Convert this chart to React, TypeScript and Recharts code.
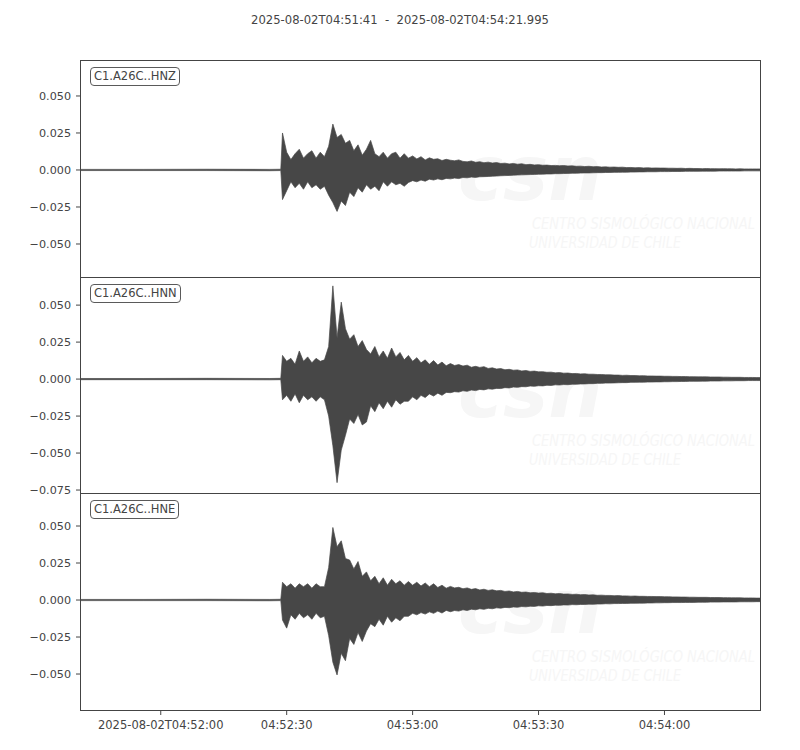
import React from "react";
import { ComposedChart, Area, XAxis, YAxis } from "recharts";

const TITLE = "2025-08-02T04:51:41  -  2025-08-02T04:54:21.995";
const TIME_DOMAIN: [number, number] = [0, 161.995];
const X_TICKS = [19, 49, 79, 109, 139];
const X_TICK_LABELS = ["2025-08-02T04:52:00", "04:52:30", "04:53:00", "04:53:30", "04:54:00"];

const CHANNELS = ["C1.A26C..HNZ", "C1.A26C..HNN", "C1.A26C..HNE"];
const Y_TICKS_Z = [-0.05, -0.025, 0, 0.025, 0.05];
const Y_TICKS_N = [-0.075, -0.05, -0.025, 0, 0.025, 0.05];
const Y_TICKS_E = [-0.05, -0.025, 0, 0.025, 0.05];
const Y_DOMAIN_Z: [number, number] = [-0.0723, 0.0743];
const Y_DOMAIN_N: [number, number] = [-0.077, 0.069];
const Y_DOMAIN_E: [number, number] = [-0.0743, 0.0723];

// seconds after 04:51:41 (quiet part before the onset)
const preTimes = [0, 15, 30, 45, 47.6];
const preUpper = [0.0004, 0.0004, 0.0005, 0.0004, 0.0005];
const preLower = [-0.0004, -0.0004, -0.0004, -0.0005, -0.0004];
// envelope sampled every second from t = 48 s to t = 162 s
const envStart = 48;
const envCount = 115;

const hnzUpper = [
  0.025, 0.012, 0.007, 0.011, 0.014, 0.008, 0.011, 0.013, 0.008, 0.012,
  0.009, 0.016, 0.031, 0.022, 0.024, 0.018, 0.020, 0.013, 0.017, 0.010,
  0.014, 0.020, 0.011, 0.009, 0.012, 0.008, 0.011, 0.012, 0.008, 0.011,
  0.008, 0.0095, 0.0075, 0.009, 0.0068, 0.0082, 0.0072, 0.0076, 0.0064, 0.0072,
  0.0066, 0.0062, 0.0068, 0.0058, 0.0055, 0.0061, 0.0052, 0.0056, 0.0049, 0.0053,
  0.0047, 0.005, 0.0044, 0.0046, 0.0041, 0.0044, 0.0039, 0.0042, 0.0036, 0.0038,
  0.0034, 0.0036, 0.0032, 0.0033, 0.003, 0.0031, 0.0029, 0.003, 0.0027, 0.0028,
  0.0025, 0.0026, 0.0023, 0.0025, 0.0022, 0.0023, 0.002, 0.0021, 0.0019, 0.002,
  0.0018, 0.0019, 0.0016, 0.0017, 0.0015, 0.0016, 0.0014, 0.0015, 0.0013, 0.0014,
  0.0013, 0.0013, 0.0012, 0.0012, 0.0011, 0.0012, 0.001, 0.0011, 0.001, 0.001,
  0.0009, 0.001, 0.0009, 0.0009, 0.0008, 0.0009, 0.0008, 0.0008, 0.0007, 0.0008,
  0.0007, 0.0007, 0.0007, 0.0007, 0.0007,
];
const hnzLower = [
  -0.020, -0.014, -0.008, -0.012, -0.009, -0.013, -0.008, -0.012, -0.010, -0.013,
  -0.011, -0.017, -0.022, -0.028, -0.021, -0.024, -0.015, -0.018, -0.012, -0.015,
  -0.010, -0.013, -0.011, -0.014, -0.008, -0.011, -0.008, -0.010, -0.009, -0.011,
  -0.0085, -0.0072, -0.008, -0.0068, -0.0076, -0.0062, -0.0068, -0.006, -0.0066, -0.0057,
  -0.006, -0.0055, -0.0058, -0.0051, -0.0053, -0.0048, -0.005, -0.0046, -0.0045, -0.0044,
  -0.0042, -0.0041, -0.0039, -0.0038, -0.0037, -0.0035, -0.0034, -0.0033, -0.0032, -0.0031,
  -0.003, -0.0029, -0.0028, -0.0027, -0.0027, -0.0025, -0.0025, -0.0024, -0.0023, -0.0022,
  -0.0022, -0.0021, -0.002, -0.002, -0.0019, -0.0018, -0.0018, -0.0017, -0.0017, -0.0016,
  -0.0016, -0.0015, -0.0015, -0.0014, -0.0014, -0.0013, -0.0013, -0.0012, -0.0012, -0.0012,
  -0.0011, -0.0011, -0.0011, -0.001, -0.001, -0.001, -0.0009, -0.0009, -0.0009, -0.0009,
  -0.0008, -0.0008, -0.0008, -0.0008, -0.0007, -0.0007, -0.0007, -0.0007, -0.0007, -0.0007,
  -0.0006, -0.0006, -0.0006, -0.0006, -0.0006,
];

const hnnUpper = [
  0.016, 0.012, 0.014, 0.010, 0.019, 0.012, 0.015, 0.011, 0.014, 0.012,
  0.013, 0.022, 0.063, 0.028, 0.052, 0.034, 0.027, 0.030, 0.022, 0.026,
  0.020, 0.017, 0.022, 0.015, 0.019, 0.014, 0.021, 0.015, 0.018, 0.013,
  0.016, 0.012, 0.0145, 0.011, 0.013, 0.010, 0.0125, 0.0095, 0.0115, 0.009,
  0.0105, 0.0092, 0.0098, 0.0088, 0.0094, 0.0080, 0.0086, 0.0079, 0.0084, 0.0072,
  0.0076, 0.0068, 0.0071, 0.0063, 0.0066, 0.006, 0.0062, 0.0055, 0.0058, 0.0052,
  0.0054, 0.0049, 0.005, 0.0046, 0.0047, 0.0042, 0.0044, 0.004, 0.0041, 0.0037,
  0.0038, 0.0035, 0.0036, 0.0033, 0.0033, 0.0031, 0.0031, 0.0029, 0.0029, 0.0027,
  0.0027, 0.0025, 0.0026, 0.0024, 0.0024, 0.0022, 0.0023, 0.0021, 0.0021, 0.002,
  0.002, 0.0019, 0.0019, 0.0018, 0.0018, 0.0017, 0.0017, 0.0016, 0.0016, 0.0015,
  0.0015, 0.0015, 0.0014, 0.0014, 0.0014, 0.0013, 0.0013, 0.0012, 0.0012, 0.0012,
  0.0011, 0.0011, 0.0011, 0.001, 0.001,
];
const hnnLower = [
  -0.014, -0.011, -0.015, -0.010, -0.016, -0.011, -0.014, -0.012, -0.015, -0.012,
  -0.014, -0.025, -0.045, -0.070, -0.048, -0.038, -0.027, -0.030, -0.024, -0.031,
  -0.029, -0.018, -0.022, -0.016, -0.020, -0.015, -0.019, -0.014, -0.017, -0.015,
  -0.015, -0.012, -0.014, -0.011, -0.0125, -0.010, -0.0115, -0.0095, -0.011, -0.009,
  -0.0092, -0.0085, -0.0088, -0.0079, -0.0083, -0.0074, -0.0078, -0.0070, -0.0073, -0.0066,
  -0.0068, -0.0063, -0.0064, -0.0058, -0.006, -0.0054, -0.0056, -0.0051, -0.0052, -0.0047,
  -0.0049, -0.0045, -0.0046, -0.0042, -0.0043, -0.0039, -0.004, -0.0037, -0.0038, -0.0035,
  -0.0035, -0.0033, -0.0033, -0.0031, -0.0031, -0.0029, -0.0029, -0.0027, -0.0027, -0.0026,
  -0.0025, -0.0024, -0.0024, -0.0022, -0.0022, -0.0021, -0.0021, -0.002, -0.002, -0.0019,
  -0.0019, -0.0018, -0.0018, -0.0017, -0.0017, -0.0016, -0.0016, -0.0015, -0.0015, -0.0015,
  -0.0014, -0.0014, -0.0013, -0.0013, -0.0013, -0.0012, -0.0012, -0.0012, -0.0011, -0.0011,
  -0.0011, -0.001, -0.001, -0.001, -0.001,
];

const hneUpper = [
  0.012, 0.009, 0.011, 0.008, 0.011, 0.009, 0.011, 0.008, 0.011, 0.009,
  0.009, 0.022, 0.049, 0.036, 0.040, 0.028, 0.027, 0.021, 0.026, 0.016,
  0.019, 0.013, 0.016, 0.011, 0.015, 0.010, 0.014, 0.011, 0.013, 0.010,
  0.0125, 0.010, 0.012, 0.0095, 0.0115, 0.009, 0.011, 0.0085, 0.010, 0.008,
  0.0092, 0.0082, 0.0086, 0.0076, 0.0082, 0.0072, 0.0077, 0.0068, 0.0073, 0.0065,
  0.0069, 0.0062, 0.0065, 0.0058, 0.0061, 0.0055, 0.0058, 0.0052, 0.0054, 0.0049,
  0.0051, 0.0047, 0.0049, 0.0044, 0.0046, 0.0042, 0.0044, 0.004, 0.0041, 0.0038,
  0.0039, 0.0036, 0.0037, 0.0034, 0.0035, 0.0032, 0.0033, 0.0031, 0.0031, 0.0029,
  0.003, 0.0028, 0.0028, 0.0026, 0.0027, 0.0025, 0.0025, 0.0024, 0.0024, 0.0023,
  0.0023, 0.0022, 0.0022, 0.0021, 0.0021, 0.002, 0.002, 0.0019, 0.0019, 0.0018,
  0.0018, 0.0018, 0.0017, 0.0017, 0.0017, 0.0016, 0.0016, 0.0015, 0.0015, 0.0015,
  0.0014, 0.0014, 0.0014, 0.0013, 0.0013,
];
const hneLower = [
  -0.0135, -0.019, -0.010, -0.013, -0.009, -0.012, -0.010, -0.013, -0.009, -0.012,
  -0.011, -0.024, -0.042, -0.0506, -0.036, -0.041, -0.026, -0.030, -0.022, -0.028,
  -0.021, -0.016, -0.018, -0.013, -0.017, -0.011, -0.015, -0.012, -0.014, -0.011,
  -0.011, -0.009, -0.010, -0.0085, -0.0095, -0.008, -0.009, -0.0075, -0.0088, -0.007,
  -0.0079, -0.0071, -0.0075, -0.0066, -0.0071, -0.0062, -0.0066, -0.0059, -0.0063, -0.0056,
  -0.0059, -0.0053, -0.0055, -0.005, -0.0052, -0.0047, -0.0049, -0.0044, -0.0046, -0.0042,
  -0.0043, -0.0039, -0.0041, -0.0037, -0.0038, -0.0035, -0.0036, -0.0033, -0.0034, -0.0031,
  -0.0032, -0.003, -0.003, -0.0028, -0.0029, -0.0027, -0.0027, -0.0025, -0.0026, -0.0024,
  -0.0024, -0.0023, -0.0023, -0.0022, -0.0022, -0.0021, -0.0021, -0.002, -0.002, -0.0019,
  -0.0019, -0.0018, -0.0018, -0.0017, -0.0017, -0.0017, -0.0016, -0.0016, -0.0016, -0.0015,
  -0.0015, -0.0015, -0.0014, -0.0014, -0.0014, -0.0013, -0.0013, -0.0013, -0.0013, -0.0012,
  -0.0012, -0.0012, -0.0012, -0.0011, -0.0011,
];

const envTimes = Array.from({ length: envCount }, (_, i) => envStart + i);
const times = [...preTimes, ...envTimes];

function buildRows(upper: number[], lower: number[]) {
  const up = [...preUpper, ...upper];
  const lo = [...preLower, ...lower];
  return times.map((t, i) => ({ t, band: [lo[i], up[i]] }));
}

const FONT = "DejaVu Sans, sans-serif";
const TEXT = "#444444";
const TRACE = "#474747";

const fmtY = (v: number) => (v < 0 ? "\u2212" : "") + Math.abs(v).toFixed(3);
const fmtX = (v: number) => {
  const i = X_TICKS.indexOf(v);
  return i >= 0 ? X_TICK_LABELS[i] : "";
};

const PLOT_LEFT = 81;
const PLOT_RIGHT = 761;
const X_AXIS_H = 38;
const SPILL = 14;

type PanelProps = {
  top: number;
  height: number;
  rows: { t: number; band: number[] }[];
  domain: [number, number];
  ticks: number[];
  showX: boolean;
};

function Panel({ top, height, rows, domain, ticks, showX }: PanelProps) {
  const extra = showX ? X_AXIS_H : SPILL;
  const h = height + extra;
  return (
    <div style={{ position: "absolute", left: 0, top, width: 800, height: h, pointerEvents: "none" }}>
      <ComposedChart
        width={800}
        height={h}
        data={rows}
        margin={{ top: 0, right: 800 - PLOT_RIGHT, bottom: showX ? 0 : SPILL, left: 0 }}
      >
        <XAxis
          type="number"
          dataKey="t"
          domain={TIME_DOMAIN}
          allowDataOverflow
          ticks={X_TICKS}
          interval={0}
          tickFormatter={fmtX}
          hide={!showX}
          height={X_AXIS_H}
          axisLine={false}
          tickSize={5}
          tickMargin={6}
          tickLine={{ stroke: TEXT, strokeWidth: 1 }}
          tick={{ fill: TEXT, fontSize: 11.5, fontFamily: FONT }}
        />
        <YAxis
          type="number"
          domain={domain}
          allowDataOverflow
          ticks={ticks}
          interval={0}
          tickFormatter={fmtY}
          width={PLOT_LEFT}
          axisLine={false}
          tickSize={5}
          tickMargin={5}
          tickLine={{ stroke: TEXT, strokeWidth: 1 }}
          tick={{ fill: TEXT, fontSize: 11.2, fontFamily: FONT }}
        />
        <Area
          type="linear"
          dataKey="band"
          stroke={TRACE}
          strokeWidth={0.7}
          fill={TRACE}
          fillOpacity={1}
          isAnimationActive={false}
          dot={false}
          activeDot={false}
        />
      </ComposedChart>
    </div>
  );
}

function Watermark({ top }: { top: number }) {
  const c = "#f6f6f6";
  const narrow = "Liberation Sans Narrow, DejaVu Sans Condensed, DejaVu Sans, sans-serif";
  return (
    <g transform={`translate(0, ${top})`}>
      <text x={458} y={140} fontFamily={FONT} fontWeight="bold" fontStyle="italic" fontSize={76} fill={c}>
        csn
      </text>
      <text x={532} y={169} fontFamily={narrow} fontStyle="italic" fontSize={16} fill={c} textLength={223} lengthAdjust="spacingAndGlyphs">
        CENTRO SISMOLÓGICO NACIONAL
      </text>
      <text x={529} y={188} fontFamily={narrow} fontStyle="italic" fontSize={16} fill={c} textLength={152} lengthAdjust="spacingAndGlyphs">
        UNIVERSIDAD DE CHILE
      </text>
    </g>
  );
}

const PANELS = [
  { top: 60, height: 217, upper: hnzUpper, lower: hnzLower, domain: Y_DOMAIN_Z, ticks: Y_TICKS_Z },
  { top: 277, height: 216, upper: hnnUpper, lower: hnnLower, domain: Y_DOMAIN_N, ticks: Y_TICKS_N },
  { top: 493, height: 217, upper: hneUpper, lower: hneLower, domain: Y_DOMAIN_E, ticks: Y_TICKS_E },
];

export default function App() {
  return (
    <div style={{ position: "fixed", left: 0, top: 0, width: 800, height: 750, background: "#fff", fontFamily: FONT }}>
      <svg width={800} height={750} style={{ position: "absolute", left: 0, top: 0 }}>
        {PANELS.map((p, i) => (
          <Watermark key={i} top={p.top} />
        ))}
      </svg>
      <div
        style={{
          position: "absolute",
          left: 0,
          width: 800,
          top: 12,
          textAlign: "center",
          fontSize: 11.6,
          color: TEXT,
          whiteSpace: "pre",
          lineHeight: "16px",
        }}
      >
        {TITLE}
      </div>
      {PANELS.map((p, i) => (
        <Panel
          key={i}
          top={p.top}
          height={p.height}
          rows={buildRows(p.upper, p.lower)}
          domain={p.domain}
          ticks={p.ticks}
          showX={i === PANELS.length - 1}
        />
      ))}
      {PANELS.map((p, i) => (
        <div
          key={"b" + i}
          style={{
            position: "absolute",
            left: PLOT_LEFT - 1,
            top: p.top,
            width: PLOT_RIGHT - PLOT_LEFT + 1,
            height: p.height + 1,
            border: `1px solid ${TEXT}`,
            boxSizing: "border-box",
            pointerEvents: "none",
          }}
        />
      ))}
      {PANELS.map((p, i) => (
        <div
          key={"l" + i}
          style={{
            position: "absolute",
            left: 90,
            top: p.top + 7,
            height: 19,
            boxSizing: "border-box",
            padding: "0 3px",
            border: "1px solid #5a5a5a",
            borderRadius: 4,
            background: "#fff",
            fontSize: 11.5,
            lineHeight: "17px",
            color: TEXT,
            whiteSpace: "nowrap",
          }}
        >
          {CHANNELS[i]}
        </div>
      ))}
    </div>
  );
}
